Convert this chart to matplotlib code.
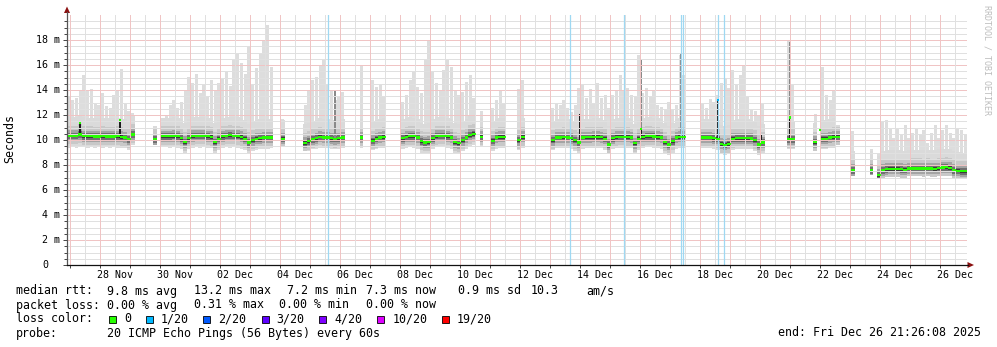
import numpy as np
import matplotlib
matplotlib.use('Agg')
import matplotlib.pyplot as plt
from matplotlib.lines import Line2D
from matplotlib.patches import Polygon, Rectangle
from matplotlib.transforms import blended_transform_factory
from datetime import datetime, timedelta

W, H = 997, 347
START = datetime(2025, 11, 26, 21, 26, 8)
END = datetime(2025, 12, 26, 21, 26, 8)
STEP_H = 3  # one smoke column per 3 hours
nan = np.nan

# median rtt per 3h step (ms), nan = no data
median_ms = [
    10.35, 10.35, 10.35, 10.45, 10.3, 10.3, 10.3, 10.28, 10.28, 10.3,
    10.28, 10.28, 10.28, 10.3, 10.25, 10.2, 10.05, 10.45, nan, nan,
    nan, nan, nan, 10.05, nan, 10.3, 10.3, 10.3, 10.32, 10.3,
    10.15, 9.85, 10.15, 10.32, 10.35, 10.35, 10.35, 10.3, 10.25, 9.85,
    10.1, 10.3, 10.35, 10.38, 10.35, 10.33, 10.25, 10.1, 9.8, 10.0,
    10.1, 10.15, 10.2, 10.2, 10.2, nan, nan, 10.1, nan, nan,
    nan, nan, nan, 9.78, 9.9, 10.05, 10.13, 10.27, 10.2, 10.2,
    10.13, 10.08, 10.13, 10.2, nan, nan, nan, nan, 10.2, nan,
    nan, 9.95, 10.1, 10.2, 10.25, nan, nan, nan, nan, 10.15,
    10.27, 10.3, 10.3, 10.2, 9.9, 9.8, 9.85, 10.15, 10.33, 10.35,
    10.35, 10.3, 10.2, 9.85, 9.75, 10.0, 10.2, 10.4, 10.5, nan,
    10.27, nan, nan, 9.95, 10.2, 10.25, 10.25, nan, nan, nan,
    10.0, 10.25, nan, nan, nan, nan, nan, nan, nan, 10.0,
    10.2, 10.2, 10.22, 10.2, 10.15, 10.0, 9.8, 10.2, 10.22, 10.22,
    10.25, 10.25, 10.22, 10.1, 9.65, 10.15, 10.25, 10.27, 10.27, 10.25,
    10.2, 9.75, 10.1, 10.25, 10.3, 10.3, 10.28, 10.25, 10.2, 9.85,
    9.65, 9.9, 10.2, 10.25, 10.25, nan, nan, nan, nan, 10.2,
    10.2, 10.2, 10.15, 10.1, 9.7, 9.62, 9.7, 10.1, 10.15, 10.15,
    10.15, 10.15, 10.12, 10.0, 9.65, 9.8, nan, nan, nan, nan,
    nan, nan, 10.05, 10.05, nan, nan, nan, nan, nan, 9.85,
    nan, 10.1, 10.1, 10.2, 10.25, 10.27, nan, nan, nan, 7.6,
    nan, nan, nan, nan, 7.6, nan, 7.2, 7.6, 7.68, 7.7,
    7.7, 7.7, 7.68, 7.62, 7.72, 7.73, 7.73, 7.73, 7.72, 7.73,
    7.72, 7.7, 7.75, 7.8, 7.82, 7.78, 7.6, 7.55, 7.52, 7.5,
]

# slowest ping per step (ms)
max_ms = [
    13.5, 13.2, 13.4, 14.0, 15.2, 14.0, 14.1, 13.0, 12.8, 13.8,
    12.7, 12.6, 13.6, 13.9, 15.7, 13.0, 12.3, 12.2, nan, nan,
    nan, nan, nan, 11.1, nan, 11.8, 12.0, 12.8, 13.2, 12.6,
    13.0, 14.0, 15.0, 14.6, 15.3, 13.8, 14.4, 13.5, 14.8, 14.0,
    14.6, 15.0, 15.4, 14.3, 16.5, 17.0, 16.2, 15.3, 17.5, 14.5,
    15.8, 17.0, 18.0, 19.2, 15.8, nan, nan, 11.7, nan, nan,
    nan, nan, nan, 12.8, 14.0, 14.8, 15.0, 15.9, 16.4, 14.5,
    14.0, 13.2, 13.4, 13.8, nan, nan, nan, nan, 16.0, nan,
    nan, 14.8, 14.2, 14.5, 13.5, nan, nan, nan, nan, 13.0,
    13.6, 14.8, 15.5, 14.2, 13.8, 16.5, 17.9, 15.4, 14.6, 14.0,
    15.6, 16.4, 15.8, 14.0, 13.6, 13.8, 14.6, 15.2, 13.4, nan,
    12.3, nan, nan, 12.6, 13.2, 14.0, 13.0, nan, nan, nan,
    14.1, 14.8, nan, nan, nan, nan, nan, nan, nan, 12.6,
    13.0, 12.8, 13.2, 12.6, 12.2, 12.8, 14.2, 14.4, 13.4, 14.1,
    13.0, 14.6, 13.4, 13.6, 12.6, 13.6, 14.0, 15.2, 14.0, 14.2,
    13.6, 13.5, 16.8, 13.8, 14.2, 13.4, 13.9, 12.8, 12.6, 12.4,
    13.0, 12.5, 12.8, 16.8, 15.2, nan, nan, nan, nan, 12.9,
    12.6, 13.3, 13.0, 13.6, 14.6, 14.9, 14.2, 15.6, 14.4, 15.2,
    16.0, 13.4, 12.4, 12.3, 12.0, 13.0, nan, nan, nan, nan,
    nan, nan, 18.0, 14.5, nan, nan, nan, nan, nan, 12.1,
    nan, 15.8, 13.6, 13.2, 14.0, 11.2, nan, nan, nan, 10.7,
    nan, nan, nan, nan, 9.3, nan, 9.0, 11.5, 11.6, 11.0,
    10.2, 11.0, 10.4, 11.2, 10.2, 10.6, 11.0, 10.4, 10.8, 9.8,
    10.6, 11.2, 10.2, 10.8, 11.2, 10.6, 10.2, 11.0, 10.8, 10.4,
]

# fastest ping per step (ms)
min_ms = [
    9.4, 9.45, 9.4, 9.5, 9.45, 9.4, 9.45, 9.4, 9.45, 9.4,
    9.45, 9.4, 9.45, 9.4, 9.4, 9.35, 9.2, 9.6, nan, nan,
    nan, nan, nan, 9.6, nan, 9.5, 9.45, 9.4, 9.45, 9.4,
    9.3, 9.0, 9.3, 9.4, 9.45, 9.4, 9.45, 9.4, 9.35, 9.0,
    9.2, 9.4, 9.45, 9.4, 9.45, 9.4, 9.3, 9.2, 8.95, 9.1,
    9.2, 9.25, 9.3, 9.3, 9.35, nan, nan, 9.5, nan, nan,
    nan, nan, nan, 9.1, 9.15, 9.25, 9.3, 9.4, 9.35, 9.35,
    9.3, 9.25, 9.3, 9.35, nan, nan, nan, nan, 9.4, nan,
    nan, 9.2, 9.3, 9.35, 9.4, nan, nan, nan, nan, 9.3,
    9.4, 9.45, 9.4, 9.3, 9.0, 8.95, 9.0, 9.3, 9.45, 9.45,
    9.45, 9.4, 9.3, 9.0, 8.9, 9.1, 9.3, 9.5, 9.6, nan,
    9.5, nan, nan, 9.1, 9.3, 9.4, 9.4, nan, nan, nan,
    9.2, 9.4, nan, nan, nan, nan, nan, nan, nan, 9.2,
    9.35, 9.35, 9.4, 9.35, 9.3, 9.1, 8.95, 9.3, 9.4, 9.4,
    9.4, 9.4, 9.35, 9.2, 8.85, 9.3, 9.4, 9.4, 9.4, 9.4,
    9.35, 8.95, 9.2, 9.4, 9.45, 9.45, 9.4, 9.4, 9.3, 9.0,
    8.8, 9.0, 9.3, 9.4, 9.4, nan, nan, nan, nan, 9.35,
    9.35, 9.35, 9.3, 9.2, 8.85, 8.8, 8.85, 9.2, 9.3, 9.3,
    9.3, 9.3, 9.25, 9.1, 8.8, 8.9, nan, nan, nan, nan,
    nan, nan, 9.3, 9.3, nan, nan, nan, nan, nan, 9.1,
    nan, 9.3, 9.3, 9.35, 9.4, 9.6, nan, nan, nan, 7.1,
    nan, nan, nan, nan, 7.2, nan, 6.9, 7.0, 7.05, 7.05,
    7.05, 7.05, 7.0, 7.0, 7.1, 7.1, 7.1, 7.1, 7.05, 7.1,
    7.05, 7.05, 7.1, 7.15, 7.15, 7.1, 7.0, 6.95, 6.95, 6.9,
]

# short bursts where all pings were slow (hours after start, top in ms)
burst_h = [10.4, 42.4, 410.4, 459.2, 520.6, 555.0, 578.4, 602.4]
burst_top = [11.35, 11.6, 12.1, 11.0, 13.2, 10.5, 11.8, 11.5]
# median at the burst peak and its loss colour
peak_h = [10.4, 42.4, 459.2, 520.6, 578.4, 602.4]
peak_ms = [11.35, 11.6, 10.9, 13.2, 11.8, 10.8]
peak_color = ['#26ff00', '#26ff00', '#26ff00', '#00b8ff', '#26ff00', '#26ff00']
# thin grey streaks of single slow pings
streak_h = [214.4, 459.2, 491.0, 578.4, 602.4]
streak_top = [13.9, 16.5, 17.0, 17.8, 15.6]

# steps with packet loss (hours after start)
loss_h = [209.0, 402.4, 445.8, 491.0, 492.6, 521.0, 525.8]

loss_labels = ['0', '1/20', '2/20', '3/20', '4/20', '10/20', '19/20']
loss_colors = ['#26ff00', '#00b8ff', '#0059ff', '#5e00ff', '#7e00ff', '#dd00ff', '#ff0000']

MONO = 'DejaVu Sans Mono'
GRID_MINOR = '#e0e0e0'
GRID_MAJOR = '#f0c4c4'


def fx(px):
    return px / W


def fy(py):
    return 1 - py / H


def hours(dt):
    return (dt - START).total_seconds() / 3600.0


med = np.array(median_ms, dtype=float)
hi = np.array(max_ms, dtype=float)
lo = np.array(min_ms, dtype=float)
t = np.arange(len(med)) * STEP_H + STEP_H / 2
ok = ~np.isnan(med)

fig = plt.figure(figsize=(W / 100, H / 100), dpi=100)
fig.patch.set_facecolor('white')
ax = fig.add_axes([fx(67), fy(265), 900 / W, 250 / H])
ax.set_xlim(0, hours(END))
ax.set_ylim(0, 20)
for s in ax.spines.values():
    s.set_visible(False)


def smoke(below, above, color, width=1.0, z=1):
    bottom = np.maximum(lo, med - below)
    top = np.minimum(hi, med + above)
    ax.bar(t[ok], (top - bottom)[ok], bottom=bottom[ok], width=STEP_H * width,
           color=color, linewidth=0, zorder=z)


# smoke: outliers as thin columns, denser shades near the median
ax.bar(t[ok], (hi - lo)[ok], bottom=lo[ok], width=STEP_H * 0.75,
       color='#dddddd', linewidth=0, zorder=1)
smoke(5.0, 1.5, '#dadada')
smoke(0.7, 0.8, '#c8c8c8')
smoke(0.45, 0.45, '#a4a4a4')
smoke(0.28, 0.25, '#707070')
smoke(0.14, 0.12, '#3c3c3c')

for h, top in zip(streak_h, streak_top):
    i = int(h // STEP_H)
    ax.bar(h, top - med[i], bottom=med[i], width=1.0, color='#8a8a8a',
           linewidth=0, zorder=1.6)
for h, top in zip(burst_h, burst_top):
    i = int(h // STEP_H)
    ax.bar(h, top - med[i] + 0.1, bottom=med[i] - 0.1, width=1.3, color='#1e1e1e',
           linewidth=0, zorder=1.7)

# faint grid, drawn over the smoke like rrdtool does
ygrid = np.arange(0.5, 20, 0.5)
for y in ygrid:
    major = abs(y / 2 - round(y / 2)) < 1e-9
    ax.axhline(y, color=GRID_MAJOR if major else GRID_MINOR, lw=0.72,
               antialiased=False, zorder=2.5)
day = datetime(2025, 11, 27)
while day < END:
    ax.axvline(hours(day), color=GRID_MAJOR, lw=0.72, antialiased=False, zorder=2.5)
    noon = day + timedelta(hours=12)
    if noon < END:
        ax.axvline(hours(noon), color=GRID_MINOR, lw=0.72, antialiased=False,
                   zorder=2.5)
    day += timedelta(days=1)

for h in loss_h:
    ax.axvline(h, color='#9ed8f2', lw=0.9, zorder=3)

# median line
ax.bar(t[ok], 0.18, bottom=med[ok] - 0.09, width=STEP_H, color='#26ff00',
       linewidth=0, zorder=4)
for h, v, c in zip(peak_h, peak_ms, peak_color):
    ax.bar(h, 0.2, bottom=v - 0.1, width=1.3, color=c, linewidth=0, zorder=4)

# ticks
ax.set_yticks(np.arange(0, 20, 2))
ax.set_yticks(ygrid, minor=True)
ax.tick_params(axis='y', which='major', length=3, width=0.7, color='#444444',
               labelleft=False)
ax.tick_params(axis='y', which='minor', length=2, width=0.7, color='#444444')
mids = []
day = datetime(2025, 11, 27)
while day < END:
    mids.append(hours(day))
    day += timedelta(days=1)
ax.set_xticks(mids)
ax.set_xticks([], minor=True)
ax.tick_params(axis='x', which='major', length=2.5, width=0.7, color='#444444',
               labelbottom=False)

ylab_tf = blended_transform_factory(fig.transFigure, ax.transData)
for v in range(0, 20, 2):
    if v == 0:
        ax.text(fx(48.7), v, '0', transform=ylab_tf, ha='right', va='center',
                family=MONO, fontsize=7.2)
    else:
        ax.text(fx(59.5), v, f'{v} m', transform=ylab_tf, ha='right', va='center',
                family=MONO, fontsize=7.2)

xlab_tf = blended_transform_factory(ax.transData, fig.transFigure)
lab = datetime(2025, 11, 28, 12)
while lab < END:
    ax.text(hours(lab), fy(275), lab.strftime('%d %b'), transform=xlab_tf,
            ha='center', va='center', family=MONO, fontsize=7.2)
    lab += timedelta(days=2)

# axes with arrow heads
fig.add_artist(Line2D([fx(67), fx(67)], [fy(265), fy(12)], color='#555555', lw=0.9))
fig.add_artist(Line2D([fx(67), fx(968)], [fy(265), fy(265)], color='#111111', lw=0.9))
fig.add_artist(Polygon([(fx(67), fy(6.5)), (fx(64), fy(13)), (fx(70), fy(13))],
                       closed=True, transform=fig.transFigure, color='#8b1010', lw=0))
fig.add_artist(Polygon([(fx(974), fy(265)), (fx(967.5), fy(262)), (fx(967.5), fy(268))],
                       closed=True, transform=fig.transFigure, color='#8b1010', lw=0))

fig.text(fx(10), fy(139), 'Seconds', rotation=90, ha='center', va='center',
         family=MONO, fontsize=8.4)
fig.text(fx(987), fy(60), 'RRDTOOL / TOBI OETIKER', rotation=270, ha='center',
         va='center', family=MONO, fontsize=6, color='#bdbdbd')

# legend block
FS = 8.4
rows = {291: [(16, 'median rtt:'), (107.3, '9.8 ms avg'), (194.3, '13.2 ms max'),
              (286.7, '7.2 ms min'), (366, '7.3 ms now'), (458.3, '0.9 ms sd'),
              (531, '10.3'), (586.7, 'am/s')],
        305: [(16, 'packet loss:'), (107.3, '0.00 % avg'), (194.3, '0.31 % max'),
              (279.3, '0.00 % min'), (365.7, '0.00 % now')],
        319: [(16, 'loss color:')],
        333: [(16, 'probe:'), (107.3, '20 ICMP Echo Pings (56 Bytes) every 60s'),
              (778.3, 'end: Fri Dec 26 21:26:08 2025')]}
for yc, items in rows.items():
    for x, s in items:
        fig.text(fx(x), fy(yc), s, ha='left', va='center', family=MONO, fontsize=FS)

box_x = [109, 145.7, 203.3, 261.7, 319.3, 377.3, 441.7]
for x, s, c in zip(box_x, loss_labels, loss_colors):
    fig.add_artist(Rectangle((fx(x), fy(323)), 7 / W, 7 / H, transform=fig.transFigure,
                             facecolor=c, edgecolor='black', lw=0.6))
    fig.text(fx(x + 15), fy(319), s, ha='left', va='center', family=MONO, fontsize=FS)

fig.savefig('out.png', dpi=100, facecolor='white')
plt.close(fig)
